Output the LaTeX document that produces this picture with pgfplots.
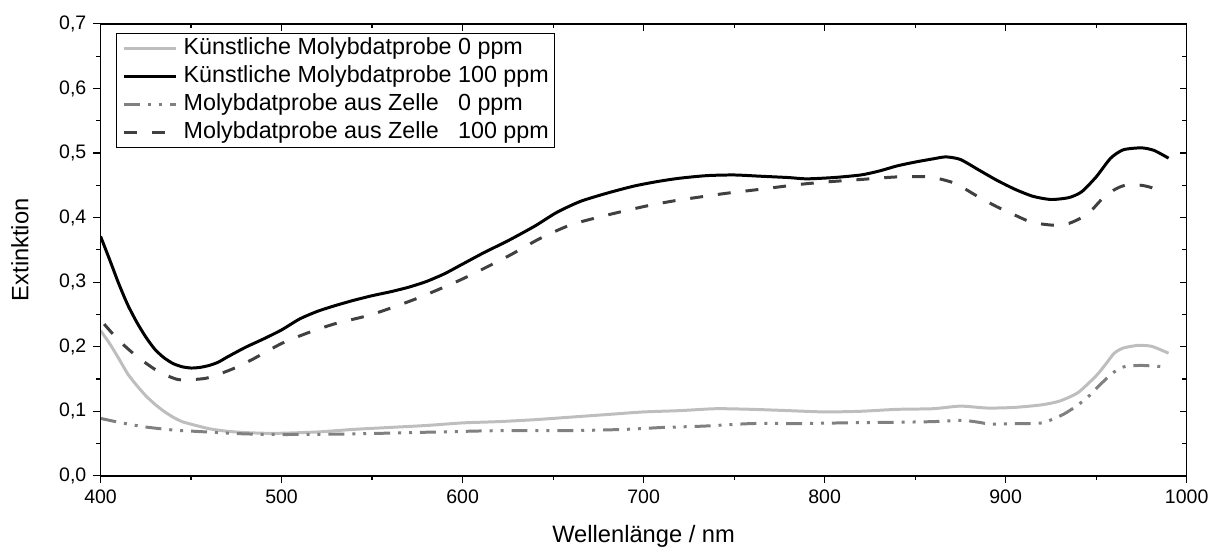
\documentclass[border=0pt]{standalone}
\usepackage{pgfplots}
\pgfplotsset{compat=1.18}
\usepackage{fontspec}
\setmainfont{Liberation Sans}
\usetikzlibrary{calc}
\definecolor{lgray}{RGB}{190,190,190}
\definecolor{mgray}{RGB}{128,128,128}
\definecolor{dgray}{RGB}{64,64,64}

\begin{document}
\begin{tikzpicture}
\pgfplotsset{
  common/.style={
    scale only axis, width=545.5pt, height=227pt,
    xmin=400, xmax=1000, ymin=0, ymax=0.7,
    xtick={400,500,600,700,800,900,1000},
    ytick={0,0.1,0.2,0.3,0.4,0.5,0.6,0.7},
    minor x tick num=1, minor y tick num=1,
    major tick length=3.6pt, minor tick length=2.2pt,
    every tick/.style={black, line width=0.6pt},
    axis line style={line width=0.8pt},
  }
}
\begin{axis}[common, name=main,
    tick align=outside, xtick pos=bottom, ytick pos=left,
    xticklabels={400,500,600,700,800,900,1000},
    yticklabels={{0,0},{0,1},{0,2},{0,3},{0,4},{0,5},{0,6},{0,7}},
    tick label style={font=\fontsize{9.8}{11}\selectfont},
    xlabel={Wellenlänge / nm}, ylabel={Extinktion},
    xlabel style={at={(axis description cs:0.5,-0.1476)}, anchor=base, font=\fontsize{11.9}{14}\selectfont},
    ylabel style={at={(axis description cs:-0.0742,0.5)}, anchor=center, rotate=0, font=\fontsize{11.9}{14}\selectfont},
    legend cell align=left,
    legend image code/.code={\draw[#1] (0pt,0pt) -- (26pt,0pt);},
    legend style={at={(axis description cs:0,1)}, anchor=north west,
      xshift=8pt, yshift=-4.5pt, draw=black, line width=0.5pt,
      inner xsep=3pt, inner ysep=2pt,
      font=\fontsize{11.7}{14}\selectfont,
      nodes={inner sep=0pt, text height=8.6pt, text depth=2.6pt},
      row sep=2.8pt, column sep=3pt},
  ]
\addplot[lgray, line width=1.5pt, smooth, tension=0.4] coordinates {
(400,0.225) (405,0.205) (410,0.182) (415,0.158) (420,0.140) (425,0.124) (430,0.111)
(435,0.100) (440,0.091) (445,0.084) (450,0.080) (460,0.073) (470,0.069) (480,0.067)
(490,0.066) (500,0.066) (520,0.068) (540,0.072) (560,0.075) (580,0.078) (600,0.082)
(620,0.084) (640,0.087) (660,0.091) (680,0.095) (700,0.099) (720,0.101) (740,0.104)
(760,0.103) (780,0.101) (800,0.099) (820,0.100) (840,0.103) (860,0.104) (875,0.108)
(890,0.105) (905,0.106) (920,0.110) (930,0.116) (940,0.129) (950,0.155) (955,0.172)
(960,0.190) (965,0.198) (973,0.202) (980,0.201) (985,0.196) (990,0.190)
};
\addlegendentry{Künstliche Molybdatprobe 0 ppm}
\addplot[black, line width=1.5pt, smooth, tension=0.4] coordinates {
(400,0.371) (405,0.335) (410,0.298) (415,0.265) (420,0.238) (425,0.215) (430,0.196)
(435,0.183) (440,0.174) (445,0.169) (450,0.167) (455,0.168) (460,0.171) (465,0.176)
(470,0.184) (480,0.199) (490,0.212) (500,0.226) (510,0.243) (520,0.255) (530,0.264)
(540,0.272) (550,0.279) (560,0.285) (570,0.292) (580,0.301) (590,0.313) (600,0.328)
(612,0.346) (625,0.364) (640,0.387) (652,0.408) (665,0.425) (680,0.438) (695,0.449)
(708,0.456) (720,0.461) (735,0.465) (750,0.466) (765,0.464) (780,0.462) (790,0.460)
(805,0.462) (820,0.466) (830,0.472) (840,0.480) (850,0.486) (860,0.491) (867,0.494)
(875,0.490) (885,0.474) (895,0.458) (905,0.444) (915,0.433) (925,0.428) (935,0.431)
(942,0.440) (950,0.463) (958,0.492) (965,0.505) (975,0.508) (982,0.504) (990,0.492)
};
\addlegendentry{Künstliche Molybdatprobe 100 ppm}
\addplot[mgray, line width=1.5pt, smooth, tension=0.4, dash pattern=on 8pt off 4pt on 1.5pt off 4pt on 1.5pt off 4pt] coordinates {
(400,0.089) (410,0.083) (424,0.076) (440,0.071) (452,0.069) (465,0.067) (480,0.065)
(500,0.064) (540,0.065) (587,0.068) (620,0.070) (660,0.070) (690,0.072) (711,0.075)
(733,0.077) (760,0.081) (785,0.081) (810,0.082) (840,0.083) (860,0.084) (876,0.086)
(885,0.083) (892,0.080) (905,0.081) (920,0.082) (931,0.094) (938,0.106) (945,0.121)
(951,0.138) (957,0.154) (962,0.165) (967,0.170) (975,0.171) (982,0.170) (988,0.169)
};
\addlegendentry{Molybdatprobe aus Zelle\ \ \ 0 ppm}
\addplot[dgray, line width=1.5pt, smooth, tension=0.4, dash pattern=on 6.5pt off 7.5pt] coordinates {
(402,0.235) (410,0.210) (420,0.185) (430,0.165) (437,0.155) (443,0.149) (450,0.149)
(458,0.151) (465,0.157) (475,0.168) (485,0.182) (500,0.205) (515,0.222) (530,0.236)
(550,0.250) (575,0.275) (600,0.305) (625,0.340) (643,0.368) (660,0.389) (680,0.404)
(700,0.417) (717,0.426) (744,0.437) (762,0.443) (785,0.451) (800,0.455) (820,0.459)
(840,0.463) (858,0.463) (870,0.455) (876,0.447) (885,0.432) (895,0.417) (905,0.404)
(913,0.394) (920,0.390) (928,0.388) (935,0.391) (942,0.400) (948,0.413) (953,0.428)
(960,0.443) (966,0.450) (975,0.450) (982,0.445) (987,0.435)
};
\addlegendentry{Molybdatprobe aus Zelle\ \ \ 100 ppm}
\end{axis}
\begin{axis}[common, tick align=inside, xtick pos=top, ytick pos=right,
    xticklabels={}, yticklabels={}]
\end{axis}
\path ($(main.south west)+(-50.5pt,-36.5pt)$) rectangle ($(main.north east)+(11.5pt,12pt)$);
\end{tikzpicture}
\end{document}
